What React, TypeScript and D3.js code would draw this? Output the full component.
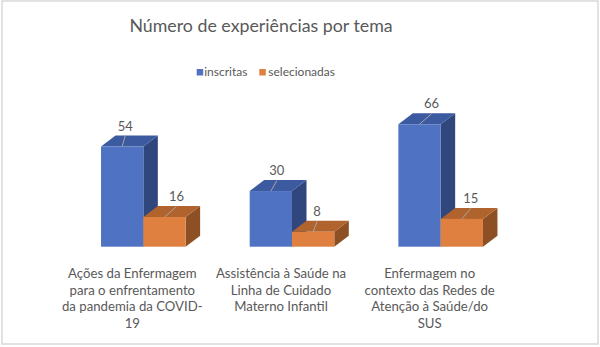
import React from "react";
import * as d3 from "d3";

const title = "Número de experiências por tema";
const categories = [
  "Ações da Enfermagem\npara o enfrentamento\nda pandemia da COVID-\n19",
  "Assistência à Saúde na\nLinha de Cuidado\nMaterno Infantil",
  "Enfermagem no\ncontexto das Redes de\nAtenção à Saúde/do\nSUS",
];
const series = ["inscritas", "selecionadas"];
const inscritas = [54, 30, 66];
const selecionadas = [16, 8, 15];
const valueMax = 70;

// layout / style constants
const W = 600, H = 347;
const FONT = "Lato, 'Open Sans', sans-serif";
const TEXT = "#595959";
const faces: Record<string, { front: string; top: string; side: string }> = {
  inscritas: { front: "#4F72C3", top: "#3C5A9F", side: "#2F477C" },
  selecionadas: { front: "#DF8040", top: "#B0632C", side: "#8C5024" },
};
const labelShift = [[3, 12], [6, 4], [12, 9]];
const DX = 14.5, DY = 11;

export default function App() {
  const x0 = d3.scaleBand<string>().domain(categories).range([69, 515]).paddingInner(0.431).paddingOuter(0.2155);
  const x1 = d3.scaleBand<string>().domain(series).range([0, x0.bandwidth()]).padding(0);
  const y = d3.scaleLinear().domain([0, valueMax]).range([246.7, 246.7 - valueMax * 1.855]);
  const values: Record<string, number[]> = { inscritas, selecionadas };

  return (
    <svg width={W} height={H} style={{ position: "absolute", left: 0, top: 0, fontFamily: FONT }}>
      <rect x={0} y={0} width={W} height={H} fill="#fff" />
      <rect x={2} y={1} width={596} height={343} fill="none" stroke="#d9d9d9" strokeWidth={1.5} />
      <text x={261} y={32} textAnchor="middle" fontSize={17.8} fill={TEXT}>{title}</text>
      {series.map((s, i) => {
        const lx = [196.7, 259.3][i];
        return (
          <g key={s}>
            <rect x={lx} y={69} width={6.5} height={6.5} fill={faces[s].front} />
            <text x={lx + (i === 0 ? 7.5 : 9)} y={75.5} fontSize={12} fill={TEXT}>{s}</text>
          </g>
        );
      })}
      {categories.map((c, ci) => (
        <g key={c}>
          {series.map((s) => {
            const v = values[s][ci];
            const xl = x0(c)! + x1(s)!;
            const xr = xl + x1.bandwidth();
            const yt = y(v);
            const yb = y(0);
            const f = faces[s];
            const top = `M${xl},${yt} L${xl + DX},${yt - DY} L${xr + DX},${yt - DY} L${xr},${yt} Z`;
            const side = `M${xr},${yt} L${xr + DX},${yt - DY} L${xr + DX},${yb - DY} L${xr},${yb} Z`;
            return (
              <g key={s}>
                <path d={side} fill={f.side} />
                <path d={top} fill={f.top} />
                <rect x={xl} y={yt} width={xr - xl} height={yb - yt} fill={f.front} />
              </g>
            );
          })}
        </g>
      ))}
      {categories.map((c, ci) =>
        series.map((s, si) => {
          const v = values[s][ci];
          const xl = x0(c)! + x1(s)!;
          const xc = xl + x1.bandwidth() / 2;
          const yt = y(v);
          const lx = xc + labelShift[ci][si];
          return (
            <g key={c + s}>
              <line x1={xc} y1={yt} x2={lx} y2={yt - 10.5} stroke="#a6a6a6" strokeWidth={1} />
              <text x={lx} y={yt - 16} textAnchor="middle" fontSize={13} fill={TEXT}>{v}</text>
            </g>
          );
        })
      )}
      {categories.map((c) => {
        const cx = x0(c)! + x0.bandwidth() / 2 - 11;
        return (
          <text key={c} textAnchor="middle" fontSize={13.2} fill={TEXT}>
            {c.split("\n").map((ln, li) => (
              <tspan key={li} x={cx} y={278 + li * 16.7}>{ln}</tspan>
            ))}
          </text>
        );
      })}
    </svg>
  );
}
